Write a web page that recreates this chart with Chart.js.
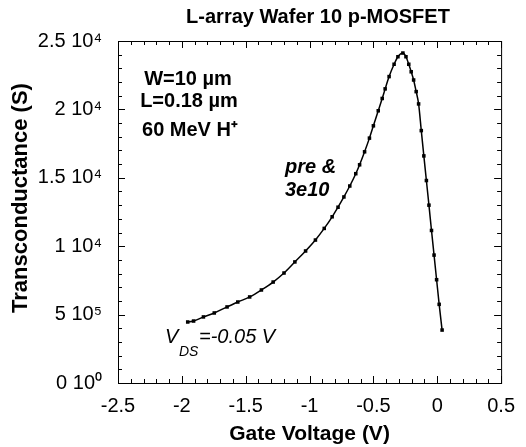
<!DOCTYPE html>
<html>
<head>
<meta charset="utf-8">
<script src="https://cdn.jsdelivr.net/npm/chart.js@4/dist/chart.umd.min.js"></script>
<style>
  html, body { margin: 0; padding: 0; background: #fff; }
  #wrap { width: 526px; height: 447px; }
</style>
</head>
<body>
<div id="wrap"><canvas id="gm-graph"></canvas></div>
<script>
// gate voltage (V)
var gateVoltage = [-1.954, -1.908, -1.831, -1.746, -1.646, -1.562, -1.469, -1.377, -1.285, -1.200,
  -1.115, -1.031, -0.954, -0.885, -0.823, -0.777, -0.731, -0.685, -0.638, -0.608,
  -0.569, -0.531, -0.500, -0.462, -0.431, -0.408, -0.377, -0.338, -0.308, -0.269,
  -0.245, -0.223, -0.204, -0.185, -0.165, -0.146, -0.125, -0.105, -0.085, -0.065,
  -0.045, -0.025, -0.005, 0.015, 0.038];
// transconductance (S)
var transconductance = [4.46e-5, 4.53e-5, 4.83e-5, 5.12e-5, 5.56e-5, 5.92e-5, 6.29e-5, 6.80e-5, 7.38e-5, 8.04e-5,
  8.85e-5, 9.65e-5, 1.045e-4, 1.130e-4, 1.215e-4, 1.285e-4, 1.360e-4, 1.440e-4, 1.530e-4, 1.595e-4,
  1.690e-4, 1.790e-4, 1.880e-4, 1.990e-4, 2.080e-4, 2.150e-4, 2.240e-4, 2.330e-4, 2.385e-4, 2.412e-4,
  2.385e-4, 2.330e-4, 2.275e-4, 2.215e-4, 2.130e-4, 2.040e-4, 1.845e-4, 1.660e-4, 1.480e-4, 1.300e-4,
  1.115e-4, 9.35e-5, 7.55e-5, 5.75e-5, 3.87e-5];

var xTickValues = [-2.5, -2, -1.5, -1, -0.5, 0, 0.5];
var yTickValues = [0, 5e-5, 1e-4, 1.5e-4, 2e-4, 2.5e-4];
var yTickLabels = ['0 10\u2070', '5 10\u2075', '1 10\u2074', '1.5 10\u2074', '2 10\u2074', '2.5 10\u2074'];

var FONT = '"Liberation Sans", Arial, Helvetica, sans-serif';

var points = gateVoltage.map(function (v, i) {
  return { x: v, y: transconductance[i] };
});

// frame, inward ticks and the text labels inside the plot
var decor = {
  id: 'decor',
  afterDraw: function (chart) {
    var c = chart.ctx;
    var a = chart.chartArea;
    var xs = chart.scales.x;
    var ys = chart.scales.y;
    c.save();
    c.strokeStyle = '#000';
    c.lineWidth = 1;
    c.strokeRect(a.left + 0.5, a.top + 0.5, a.right - a.left, a.bottom - a.top);

    c.beginPath();
    for (var i = 0; i <= 30; i++) {
      var px = Math.round(xs.getPixelForValue(-2.5 + i * 0.1)) + 0.5;
      var len = (i % 5 === 0) ? 7 : 4;
      c.moveTo(px, a.bottom); c.lineTo(px, a.bottom - len);
      c.moveTo(px, a.top); c.lineTo(px, a.top + len);
    }
    for (var j = 0; j <= 25; j++) {
      var py = Math.round(ys.getPixelForValue(j * 1e-5)) + 0.5;
      var l2 = (j % 5 === 0) ? 7 : 4;
      c.moveTo(a.left, py); c.lineTo(a.left + l2, py);
      c.moveTo(a.right, py); c.lineTo(a.right - l2, py);
    }
    c.stroke();

    c.fillStyle = '#000';
    c.textBaseline = 'middle';

    // title
    c.textAlign = 'center';
    c.font = 'bold 20px ' + FONT;
    c.fillText('L-array Wafer 10 p-MOSFET', 318, 17);

    // y axis title
    c.save();
    c.translate(21, 198);
    c.rotate(-Math.PI / 2);
    c.font = 'bold 22px ' + FONT;
    c.fillText('Transconductance (S)', 0, 0);
    c.restore();

    // device info
    c.font = 'bold 20px ' + FONT;
    c.fillText('W=10 \u00b5m', 188, 79);
    c.fillText('L=0.18 \u00b5m', 189, 101);
    c.fillText('60 MeV H\u207a', 190, 130);

    c.font = 'italic bold 20px ' + FONT;
    c.textAlign = 'left';
    c.fillText('pre &', 285, 167);
    c.fillText('3e10', 285, 190);

    // V_DS label
    c.font = 'italic 20px ' + FONT;
    c.fillText('V', 165, 337);
    c.font = 'italic 14px ' + FONT;
    c.fillText('DS', 179, 352);
    c.font = 'italic 20px ' + FONT;
    c.fillText('=-0.05 V', 199, 337);
    c.restore();
  }
};

var ctx = document.getElementById('gm-graph').getContext('2d');

var chart = new Chart(ctx, {
  type: 'line',
  data: {
    datasets: [{
      label: 'pre & 3e10',
      data: points,
      borderColor: '#000',
      backgroundColor: '#000',
      borderWidth: 1.5,
      pointStyle: 'rect',
      pointRadius: 2.5,
      pointBorderWidth: 0,
      cubicInterpolationMode: 'monotone',
      fill: false
    }]
  },
  options: {
    responsive: true,
    maintainAspectRatio: false,
    animation: false,
    layout: { padding: { top: 41, right: 14, left: 0, bottom: 0 } },
    plugins: {
      legend: { display: false },
      tooltip: { enabled: false }
    },
    scales: {
      x: {
        type: 'linear',
        min: -2.5,
        max: 0.5,
        grid: { display: false, drawTicks: false },
        border: { display: false },
        afterBuildTicks: function (s) {
          s.ticks = xTickValues.map(function (v) { return { value: v }; });
        },
        afterFit: function (s) { s.height = 64; },
        ticks: {
          padding: 11,
          color: '#000',
          font: { family: FONT, size: 20 },
          maxRotation: 0,
          callback: function (v) { return String(v); }
        },
        title: {
          display: true,
          text: 'Gate Voltage (V)',
          color: '#000',
          font: { family: FONT, size: 21, weight: 'bold' },
          padding: { top: 0, bottom: 0 }
        }
      },
      y: {
        min: 0,
        max: 2.5e-4,
        grid: { display: false, drawTicks: false },
        border: { display: false },
        afterBuildTicks: function (s) {
          s.ticks = yTickValues.map(function (v) { return { value: v }; });
        },
        afterFit: function (s) { s.width = 118; },
        ticks: {
          padding: 16,
          color: '#000',
          font: { family: FONT, size: 20 },
          callback: function (v) {
            return yTickLabels[Math.round(v / 5e-5)];
          }
        }
      }
    }
  },
  plugins: [decor]
});
</script>
</body>
</html>
